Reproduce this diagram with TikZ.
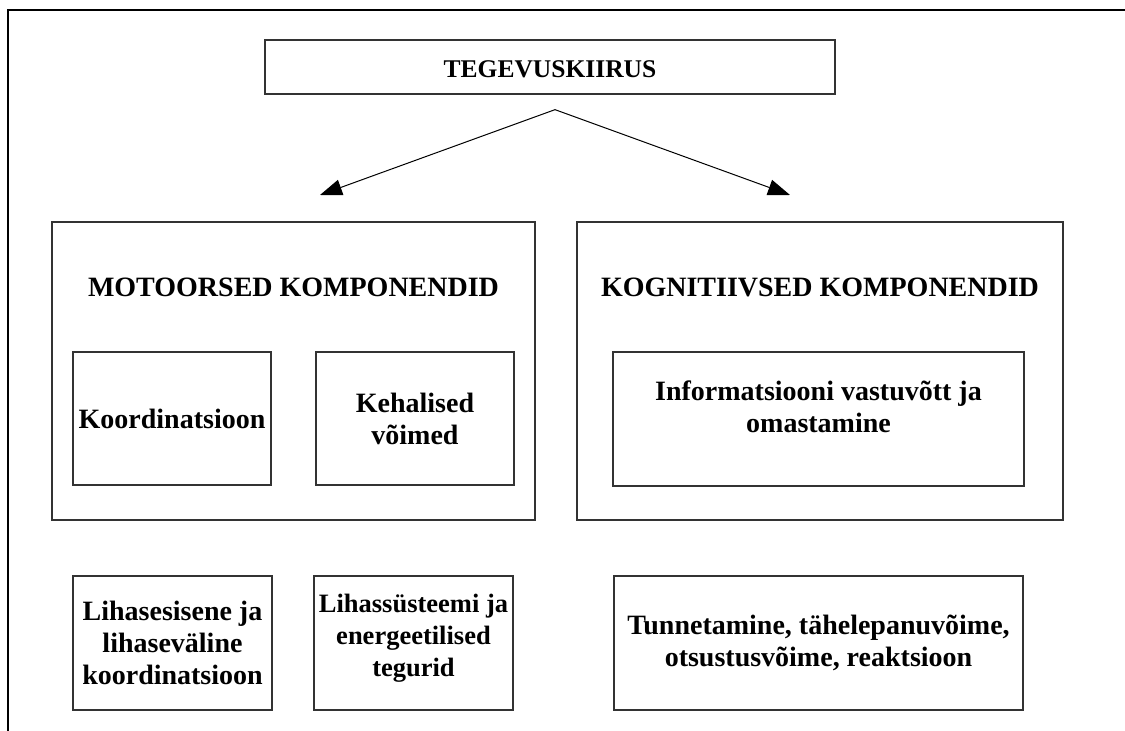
\documentclass[tikz,border=0pt]{standalone}
\usepackage{fontspec}
\setmainfont{Liberation Serif}
\usepackage{tikz}
\usetikzlibrary{arrows.meta,positioning}

\begin{document}
\begin{tikzpicture}[x=1pt,y=-1pt,
    box/.style={draw=black!80,line width=1.3pt,inner sep=0pt},
    boxtext/.style={inner sep=0pt,align=center,
      font=\fontsize{28}{32}\selectfont\bfseries},
    arr/.style={line width=1pt,-{Triangle[length=22pt,width=16pt]}}]
  \useasboundingbox (0,0) rectangle (1125,731);
  % frame (top and left edge only)
  \draw[line width=2pt] (1125,10) -- (8,10) -- (8,731);
  % top box
  \node[box,minimum width=570,minimum height=54] (speed) at (550,67) {};
  \node[boxtext,font=\fontsize{25.5}{30}\selectfont\bfseries,yshift=-2pt]
    (speedtxt) at (speed.center) {TEGEVUSKIIRUS};
  % the two groups
  \node[box,minimum width=483,minimum height=298] (motor) at (293.5,371) {};
  \node[box,minimum width=486,minimum height=298] (cogn) at (820,371) {};
  \node[boxtext,below=56pt of motor.north] (motortxt) {MOTOORSED KOMPONENDID};
  \node[boxtext,below=56pt of cogn.north] (cogntxt) {KOGNITIIVSED KOMPONENDID};
  % inner boxes
  \node[box,minimum width=198,minimum height=133] (coord) at (172,418.5) {};
  \node[boxtext] at (coord.center) {Koordinatsioon};
  \node[box,minimum width=198,minimum height=133] (phys) at (415,418.5) {};
  \node[boxtext] at (phys.center) {Kehalised\\võimed};
  \node[box,minimum width=411,minimum height=134] (info) at (818.5,419) {};
  \node[boxtext,below=29pt of info.north] (infotxt)
    {Informatsiooni vastuvõtt ja\\omastamine};
  % bottom row
  \node[box,minimum width=199,minimum height=134] (lihas) at (172.5,643) {};
  \node[boxtext] at (lihas.center) {Lihasesisene ja\\lihaseväline\\koordinatsioon};
  \node[box,minimum width=199,minimum height=134] (energ) at (413.5,643) {};
  \node[boxtext,font=\fontsize{26.5}{32}\selectfont\bfseries,below=19pt of energ.north]
    {Lihassüsteemi ja\\energeetilised\\tegurid};
  \node[box,minimum width=409,minimum height=134] (tunne) at (818.5,643) {};
  \node[boxtext] at (tunne.center) {Tunnetamine, tähelepanuvõime,\\otsustusvõime, reaktsioon};
  % arrows
  \coordinate[below=15pt of speed.south,xshift=5pt] (split);
  \coordinate (ltip) at (320,195);
  \coordinate (rtip) at (790,195);
  \draw[arr] (split) -- (ltip);
  \draw[arr] (split) -- (rtip);
\end{tikzpicture}
\end{document}
